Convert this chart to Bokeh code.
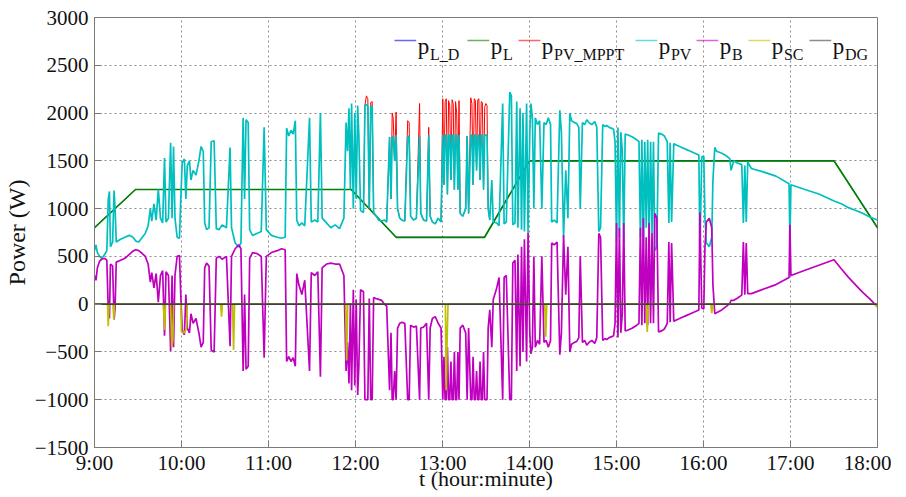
from bokeh.plotting import figure
from bokeh.models import Range1d, FixedTicker, Label, BoxAnnotation
from bokeh.embed import file_html
from bokeh.resources import INLINE

# ---------------- data (time in minutes after 9:00, power in W) ----------------
load_t = [0, 28.3, 177, 208, 269, 300, 510, 540]
load_v = [800, 1200, 1200, 700, 700, 1500, 1500, 800]
load_d_t = [0, 28.3, 177, 208, 269, 300, 510, 540]
load_d_v = [800, 1200, 1200, 700, 700, 1500, 1500, 800]

t_a = [0, 1, 2, 3.5, 5, 7, 8.5, 9.5, 10.3, 11, 12.5, 13.5, 14.2, 15, 18, 21, 24, 26.5, 28.5, 30.5,
       33, 35, 37, 38.5, 39.5, 41, 42.5, 44, 45.5, 47, 48.3, 49.3, 51, 52.5, 53.5, 54.5, 55.5, 57, 58.6, 59.5]
pv_a = [560, 620, 540, 500, 480, 520, 560, 1100, 1180, 600, 650, 1190, 1000, 650, 680, 700, 720, 700, 660, 650,
        700, 740, 820, 1000, 870, 1050, 880, 1200, 900, 850, 1530, 860, 900, 1690, 900, 1650, 900, 700, 690, 1100]
b_a = [300, 250, 380, 450, 470, 480, 460, -60, -150, 420, 400, -160, -40, 440, 460, 480, 520, 555, 570, 560,
       530, 500, 420, 230, 330, 170, 320, 20, 300, 350, -330, 340, 300, -490, 300, -450, 300, 500, 510, 100]

t_b = [60.5, 62, 63, 64, 65.5, 66.5, 68, 70, 72, 73.5, 75, 76, 77.3, 79, 80.5, 82.5, 84, 86, 88, 91,
       93.5, 94.5, 97, 99.5, 101, 102.5, 103.5, 104.5, 106, 107, 109, 112, 115, 117, 118.5]
pv_b = [1480, 1520, 1100, 1450, 1500, 1300, 1400, 1350, 1500, 1650, 1600, 850, 780, 800, 1700, 1710, 790, 780, 830, 800,
        1640, 800, 640, 600, 640, 1950, 1100, 1930, 1900, 780, 720, 740, 760, 1850, 780]
b_b = [-280, -320, 100, -250, -300, -100, -200, -150, -300, -450, -400, 380, 430, 400, -480, -500, 480, 500, 470, 500,
       -440, 500, 580, 620, 580, -700, 100, -680, -650, 480, 540, 530, 500, -560, 500]

t_c = [122, 126, 129, 131.5, 132.5, 134, 135.5, 137, 138.5, 139.5, 141, 143, 145, 148.3, 149.5, 152, 154, 155.8, 157, 160,
       163, 166, 169, 172, 173.5, 174.5, 175.5, 176.5, 177.3, 178.5, 179.5, 180.5, 181.5, 182.3, 183.5]
pv_c = [720, 700, 690, 700, 1840, 1760, 1820, 1780, 1920, 880, 820, 850, 820, 1950, 860, 880, 860, 2000, 900, 850,
        800, 830, 790, 900, 1900, 1600, 2050, 1200, 2100, 1000, 2000, 1100, 2080, 1770, 980]
b_c = [540, 560, 580, 570, -600, -550, -600, -560, -650, 320, 200, 100, 250, -700, 330, 300, 340, -760, 380, 420,
       430, 420, 420, 300, -700, -400, -830, 0, -900, 150, -850, 50, -950, -650, 150]

t_d = [185.5, 186.5, 187.5, 188.5, 189.5, 190.5, 191.5, 192.5, 194, 196, 198, 200, 201.5, 203.5, 204.5, 205.3, 206, 207, 208, 209,
       210.5, 212, 214, 216, 217, 218, 220, 222, 224.2, 225, 227, 229, 230.5, 231.5, 233, 235, 237, 239]
pv_d = [960, 2080, 2090, 2070, 1000, 2080, 2060, 960, 930, 880, 870, 880, 860, 1750, 1100, 1760, 1740, 1500, 1770, 1000,
        900, 880, 870, 1760, 1750, 920, 880, 900, 1760, 950, 880, 870, 1770, 920, 860, 840, 900, 860]
b_d = [130, -1000, -1000, -1000, 60, -1000, -1000, 70, 60, 50, 40, 0, -20, -900, -300, -1000, -1000, -700, -1000, -250,
       -200, -190, -200, -1000, -1000, -220, -240, -230, -1000, -250, -240, -200, -1000, -250, -150, -130, -200, -250]
mppt_d = [960, 2080, 2180, 2150, 1000, 2110, 2120, 960, 930, 880, 870, 880, 860, 1750, 1100, 2000, 1950, 1500, 2010, 1000,
          900, 880, 870, 1920, 1900, 920, 880, 900, 2100, 950, 880, 870, 1850, 920, 860, 840, 900, 860]

t_e = [240.2, 241, 241.8, 242.6, 243.4, 244.2, 245, 245.8, 246.6, 247.4, 248.2, 249, 249.8, 250.6, 251.4, 252.2, 254, 256, 257, 258,
       259.5, 260.3, 261.1, 261.9, 262.7, 263.5, 264.3, 265.1, 265.9, 266.7, 267.5, 268.3, 269.1, 269.9, 270.7, 271.5, 272.6]
pv_e = [1770, 1250, 1770, 1770, 1150, 1770, 1770, 1300, 1770, 1770, 1200, 1770, 1770, 1200, 1770, 950, 920, 1000, 1760, 950,
        1770, 1770, 1250, 1770, 1770, 1400, 1770, 1770, 1300, 1770, 1770, 1200, 1770, 1770, 1770, 1000, 880]
b_e = [-1000, -550, -1000, -1000, -450, -1000, -1000, -600, -1000, -1000, -500, -1000, -1000, -500, -1000, -250, -220, -300, -1000, -250,
       -1000, -1000, -550, -1000, -1000, -700, -1000, -1000, -600, -1000, -1000, -500, -1000, -1000, -1000, -250, -60]
mppt_e = [2150, 1250, 2120, 2150, 1150, 2130, 2080, 1300, 2140, 2100, 1200, 2120, 2000, 1200, 2130, 950, 920, 1000, 1760, 950,
          2160, 2100, 1250, 2150, 2130, 1400, 2140, 2150, 1300, 2120, 2110, 1200, 2060, 2100, 2080, 1000, 880]

t_f = [274, 275, 277.4, 279, 281.5, 282.5, 284, 286.4, 287.5, 288.5, 290, 291.2, 292, 293.5, 294.5, 295.5, 296.5, 298, 299]
pv_f = [1300, 860, 850, 820, 2100, 840, 860, 2220, 2180, 830, 850, 2120, 800, 2050, 780, 2000, 760, 2100, 750]
b_f = [-450, 50, 170, 280, -1000, 280, 300, -1000, -1000, 430, 460, -700, 520, -650, 600, -500, 680, -600, 750]

t_g = [300.2, 301, 302, 303, 304, 305.5, 307, 308.5, 310, 311.5, 313, 314.5, 315.3, 317, 319, 320.9, 322, 323.5, 325, 326.5,
       327.8, 329, 331, 332.6, 334, 335, 336.5, 338.1, 339.5, 341, 343, 345, 346.4, 347.8, 349, 350.5, 352, 353.3, 355, 356.7,
       358, 359]
pv_g = [1800, 2100, 1950, 1000, 1950, 1880, 1920, 1000, 1900, 1880, 1950, 1880, 860, 880, 850, 2030, 1800, 700, 1400, 900,
        2000, 1920, 1900, 1890, 1850, 1000, 1900, 1880, 1930, 1900, 1880, 1910, 1850, 760, 800, 1880, 1860, 1870, 1850, 1840,
        1830, 1700]
b_g = [-300, -520, -450, 500, -450, -380, -420, 500, -400, -380, -450, -380, 640, 620, 650, -530, -300, 720, 100, 600,
       -500, -420, -400, -390, -350, 500, -400, -380, -430, -400, -380, -410, -350, 740, 700, -380, -360, -370, -350, -340,
       -330, -200]

t_h = [360, 361, 362, 363, 364, 365, 366, 368, 371, 374, 375.5, 376.5, 377.5, 378.5, 379.5, 380.5, 381.5, 382.5, 383.5, 384.5,
       385.5, 386.4, 387.8, 389, 391, 393, 395, 396.1, 397, 398, 399.5, 402, 405, 408, 411, 414, 416.8, 417.5, 418.8]
pv_h = [650, 1850, 700, 1800, 1600, 650, 1780, 1770, 1750, 1720, 1700, 700, 1720, 600, 1700, 800, 1720, 650, 1700, 750,
        1700, 560, 600, 1790, 1780, 1760, 1700, 850, 1690, 860, 1680, 1660, 1640, 1620, 1600, 1580, 1560, 540, 1540]
b_h = [850, -350, 800, -300, -100, 850, -280, -270, -250, -220, -200, 800, -220, 900, -200, 700, -220, 850, -200, 750,
       -200, 950, 900, -290, -280, -260, -200, 650, -190, 640, -180, -160, -140, -120, -100, -80, -60, 960, -40]

t_i = [420.2, 421, 422, 424, 425.7, 426.5, 427.8, 429, 432.6, 436, 438.2, 439, 440.9, 443, 446.4, 447.5, 448.5, 449.5, 450.5, 453,
       460, 470, 479, 479.6, 480.3, 490, 500, 510, 515, 520, 525, 530, 535, 540]
pv_i = [1550, 900, 640, 600, 700, 1300, 1640, 1600, 1580, 1550, 1520, 1400, 1500, 1480, 1460, 850, 1450, 860, 1490, 1420,
        1390, 1340, 1260, 650, 1250, 1200, 1150, 1080, 1050, 1010, 980, 950, 910, 880]
b_i = [-50, 600, 860, 900, 800, 200, -100, -90, -60, -20, 10, 40, 40, 60, 95, 650, 100, 640, 110, 110,
       150, 205, 280, 830, 300, 355, 410, 465, 370, 280, 200, 120, 50, -30]

sc_t = [0, 9.0, 9.5, 10.0, 12.8, 13.3, 13.8, 47.5, 48.3, 49.0, 52.5, 53.3, 54.0, 54.6, 59.5, 60.0, 62.0, 63.5, 64.0,
        87.0, 87.6, 88.2, 95.2, 95.9, 96.6, 173.2, 173.9, 174.6, 242.0, 242.6, 243.2, 243.8, 310.5, 311.2, 311.9,
        380.5, 381.2, 381.9, 425.0, 425.7, 426.4, 538.0, 540.0]
sc_v = [0, 0, -230, 0, 0, -160, 0, 0, -270, 0, 0, -450, -380, 0, 0, -290, -300, -250, 0,
        0, -130, 0, 0, -480, 0, 0, -590, 0, 0, -900, -350, 0, 0, -340, 0,
        0, -290, 0, 0, -95, 0, 0, -30]

dg_t = [0, 540]
dg_v = [0, 0]

x_ticks = [9, 10, 11, 12, 13, 14, 15, 16, 17, 18]
x_tick_labels = ["9:00", "10:00", "11:00", "12:00", "13:00", "14:00", "15:00", "16:00", "17:00", "18:00"]
y_ticks = [-1500, -1000, -500, 0, 500, 1000, 1500, 2000, 2500, 3000]

names = ["L_D", "L", "PV_MPPT", "PV", "B", "SC", "DG"]
colors = ["#0000ff", "#008000", "#ff0000", "#00bfbf", "#bf00bf", "#bfbf00", "#404040"]
widths = [1.0, 1.7, 1.0, 1.7, 1.7, 1.7, 1.6]

# legend layout (hours / watts)
leg_x0 = [12.448, 13.287, 13.874, 15.218, 15.920, 16.517, 17.218]


def hours(ms):
    return [9 + m / 60.0 for m in ms]


pv_t = t_a + t_b + t_c + t_d + t_e + t_f + t_g + t_h + t_i
pv_v = pv_a + pv_b + pv_c + pv_d + pv_e + pv_f + pv_g + pv_h + pv_i
b_v = b_a + b_b + b_c + b_d + b_e + b_f + b_g + b_h + b_i
mppt_t = t_d + t_e
mppt_v = mppt_d + mppt_e

p = figure(frame_width=783, frame_height=430, output_backend="svg", toolbar_location=None,
           x_range=Range1d(9, 18), y_range=Range1d(-1500, 3000),
           min_border_left=85, min_border_top=17, min_border_right=14, min_border_bottom=0)
p.background_fill_color = "white"
p.border_fill_color = "white"
p.outline_line_color = "#7a7a7a"
p.outline_line_width = 1

series = [
    (hours(load_d_t), load_d_v),
    (hours(load_t), load_v),
    (hours(mppt_t), mppt_v),
    (hours(pv_t), pv_v),
    (hours(pv_t), b_v),
    (hours(sc_t), sc_v),
    (hours(dg_t), dg_v),
]
for (xs, ys), c, w in zip(series, colors, widths):
    p.line(xs, ys, line_color=c, line_width=w)

# axes
for ax in (p.xaxis[0], p.yaxis[0]):
    ax.axis_line_color = "#7a7a7a"
    ax.major_tick_line_color = "#7a7a7a"
    ax.major_tick_in = 7
    ax.major_tick_out = 0
    ax.minor_tick_line_color = None
    ax.major_label_text_font = "Liberation Serif"
    ax.major_label_text_font_size = "21px"
    ax.major_label_text_color = "#111111"
    ax.axis_label_text_font = "Liberation Serif"
    ax.axis_label_text_font_style = "normal"
    ax.axis_label_text_color = "#111111"

p.xaxis.ticker = FixedTicker(ticks=x_ticks)
p.xaxis.major_label_overrides = {t: s for t, s in zip(x_ticks, x_tick_labels)}
p.xaxis.axis_label = "t (hour:minute)"
p.xaxis.axis_label_text_font_size = "22px"
p.xaxis.major_label_standoff = 3
p.xaxis.axis_label_standoff = -12

p.yaxis.ticker = FixedTicker(ticks=y_ticks)
p.yaxis.axis_label = "Power (W)"
p.yaxis.axis_label_text_font_size = "24px"
p.yaxis.major_label_standoff = 6
p.yaxis.axis_label_standoff = 2

p.xgrid.ticker = FixedTicker(ticks=x_ticks)
p.ygrid.ticker = FixedTicker(ticks=y_ticks)
for g in (p.xgrid[0], p.ygrid[0]):
    g.grid_line_color = "#8c8c8c"
    g.grid_line_dash = "2 3"
    g.grid_line_width = 1

# legend (drawn manually to allow subscripts)
line_y = 2759
p_base = 2697
sub_base = 2613
for x0, c, nm in zip(leg_x0, colors, names):
    p.add_layout(BoxAnnotation(left=x0, right=x0 + 0.25, bottom=line_y - 8, top=line_y + 8,
                               fill_color=c, fill_alpha=0.6, line_alpha=0))
    px = x0 + 0.268
    p.add_layout(Label(x=px, y=p_base, text="p", text_font="Liberation Serif", text_font_size="23px",
                       text_color="#111111", text_baseline="alphabetic", text_align="left"))
    p.add_layout(Label(x=px + 0.14, y=sub_base, text=nm, text_font="Liberation Serif", text_font_size="16px",
                       text_color="#111111", text_baseline="alphabetic", text_align="left"))

open("out.html", "w").write(file_html(p, INLINE))
